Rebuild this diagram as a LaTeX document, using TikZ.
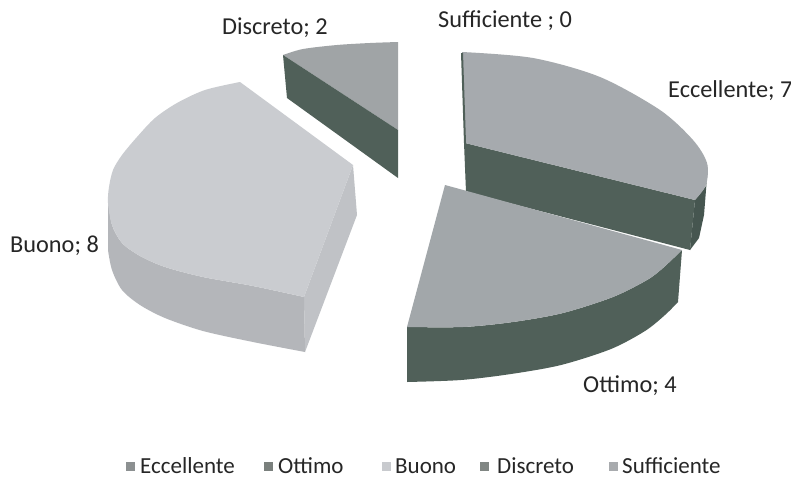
\documentclass[tikz,border=0pt]{standalone}
\usepackage{fontspec}
\setmainfont{Carlito}
\definecolor{darkwall}{RGB}{80,96,89}
\definecolor{darkwallB}{RGB}{70,86,80}
\definecolor{ecctop}{RGB}{166,170,174}
\definecolor{otttop}{RGB}{162,167,170}
\definecolor{disctop}{RGB}{160,164,166}
\definecolor{buotop}{RGB}{202,204,208}
\definecolor{buowall}{RGB}{180,182,186}
\definecolor{buoside}{RGB}{192,194,198}
\definecolor{legecc}{RGB}{140,144,145}
\definecolor{legott}{RGB}{122,128,125}
\definecolor{legbuo}{RGB}{200,202,206}
\definecolor{legdis}{RGB}{128,134,131}
\definecolor{legsuf}{RGB}{168,171,174}
\tikzset{
  lbl/.style={anchor=west,inner sep=0pt,font=\fontsize{24.3}{27}\selectfont,text=black!85},
  leglbl/.style={anchor=west,inner sep=0pt,font=\fontsize{23}{25}\selectfont,text=black!85},
  legsq/.style={minimum size=9pt,inner sep=0pt,draw=none},
}
\begin{document}
\begin{tikzpicture}[x=1pt,y=-1pt]
\useasboundingbox (0,0) rectangle (791,479);
\fill[white] (0,0) rectangle (791,479);

% ---------- Discreto ----------
\fill[disctop] (398,130) -- (283,55) -- plot[smooth] coordinates {(283,55) (303,49) (337,45) (370,43) (398,42)} -- cycle;
\fill[darkwall] (283,55) -- (398,130) -- (398,178) -- (287,98) -- cycle;

% ---------- Eccellente ----------
\fill[darkwall] (465,143) -- (695,200) -- (690,250) -- (467,192) -- cycle;
\fill[darkwallB] (708,165) -- (706,186) -- (695,200) -- (690,250) -- (699,238) -- (704,215) -- cycle;
\fill[ecctop] (465,143) -- (462,52) -- plot[smooth] coordinates {(462,52) (533,58) (600,77) (660,110) (693,140) (707,163) (706,185) (695,200)} -- cycle;
\draw[darkwall,line width=2pt] (462,53) -- (465,143) -- (467,192);

% ---------- Buono ----------
\fill[buoside] (353,165) -- (357,215) -- (305,352) -- (304,297) -- cycle;
\fill[buowall] plot[smooth] coordinates {(108,200) (112,225) (122,243) (140,256) (165,267) (203,277) (253,286) (304,297)}
  -- (305,352) -- plot[smooth] coordinates {(305,352) (253,342) (203,331) (165,318) (140,305) (122,290) (112,270) (108,250)} -- cycle;
\fill[buotop] (353,165) -- (240,82) -- plot[smooth] coordinates {(240,82) (205,90) (177,103) (155,118) (137,137) (122,155) (113,170) (109,187) (108,203) (112,225) (122,243) (140,256) (165,267) (203,277) (253,286) (304,297)} -- cycle;

% ---------- Ottimo ----------
\fill[darkwall] plot[smooth] coordinates {(682,250) (663,268) (647,280) (613,297) (563,313) (513,322) (463,327) (407,327)}
  -- (407,382) -- plot[smooth] coordinates {(407,382) (461,380) (511,374) (561,365) (611,349) (645,331) (665,315) (678,302)} -- cycle;
\fill[otttop] (445,185) -- (682,250) -- plot[smooth] coordinates {(682,250) (663,268) (647,280) (613,297) (563,313) (513,322) (463,327) (407,327)} -- cycle;

% ---------- data labels ----------
\node[lbl] (ldisc) at (222,28) {Discreto; 2};
\node[lbl] (lsuf) at (438,21) {Sufficiente ; 0};
\node[lbl] (lecc) at (668,91) {Eccellente; 7};
\node[lbl] (lbuo) at (10,246) {Buono; 8};
\node[lbl] (lott) at (583,386) {Ottimo; 4};

% ---------- legend ----------
\node[legsq,fill=legecc] (sq1) at (130,466) {};
\node[leglbl] (t1) at (140,466) {Eccellente};
\node[legsq,fill=legott] (sq2) at (268,466) {};
\node[leglbl] (t2) at (278,466) {Ottimo};
\node[legsq,fill=legbuo] (sq3) at (386,466) {};
\node[leglbl] (t3) at (395,466) {Buono};
\node[legsq,fill=legdis] (sq4) at (484,466) {};
\node[leglbl] (t4) at (497,466) {Discreto};
\node[legsq,fill=legsuf] (sq5) at (613,466) {};
\node[leglbl] (t5) at (622,466) {Sufficiente};
\end{tikzpicture}
\end{document}
